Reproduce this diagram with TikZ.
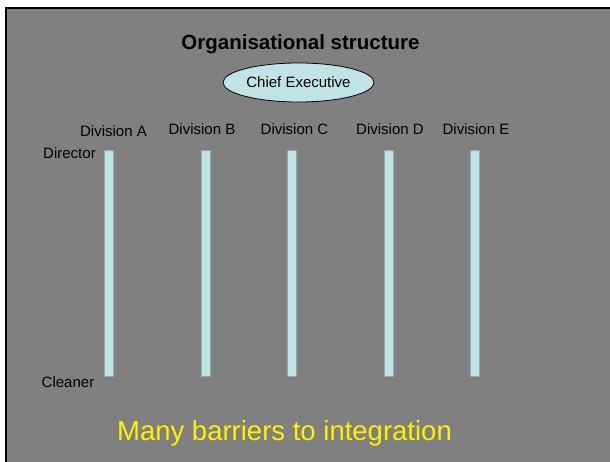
\documentclass[tikz,border=0pt]{standalone}
\usepackage{fontspec}
\setmainfont{Liberation Sans}
\usetikzlibrary{shapes}
\definecolor{slidegrey}{HTML}{808080}
\definecolor{palecyan}{HTML}{C0E4E6}

\begin{document}
\begin{tikzpicture}[x=1pt, y=-1pt,
  lbl/.style={font=\fontsize{15}{18}\selectfont, inner sep=0pt, anchor=base},
  bar/.style={rectangle, fill=palecyan, draw=palecyan!75!black, line width=0.4pt, minimum width=9pt, minimum height=226pt, inner sep=0pt},
  boss/.style={ellipse, draw, fill=palecyan, line width=0.8pt, minimum width=151pt, minimum height=39pt, inner sep=0pt, font=\fontsize{15}{18}\selectfont}]
  % slide background and its frame
  \fill[white] (0,0) rectangle (610,462);
  \fill[black] (5,7) rectangle (610,462);
  \fill[slidegrey] (7,9) rectangle (610,462);
  \useasboundingbox (0,0) rectangle (610,462);

  \node [font=\bfseries\fontsize{20.5}{24}\selectfont, inner sep=0pt, anchor=base] (title) at (300.5,50) {Organisational structure};
  \node [boss] (ceo) at (298.5,82.5) {Chief Executive};

  \node [lbl] (divA) at (113.5,137) {Division A};
  \node [lbl] (divB) at (202,135) {Division B};
  \node [lbl] (divC) at (294.5,135) {Division C};
  \node [lbl] (divD) at (390,135) {Division D};
  \node [lbl] (divE) at (476,135) {Division E};

  \node [lbl] (director) at (69.5,159) {Director};
  \node [lbl] (cleaner) at (68,387) {Cleaner};

  \foreach \name/\x in {A/108.5, B/205.5, C/291.5, D/388.5, E/475}
    \node [bar] (bar\name) at (\x,263) {};

  \node [font=\fontsize{27.5}{32}\selectfont, text=yellow, inner sep=0pt, anchor=base] (moral) at (284.5,440) {Many barriers to integration};
\end{tikzpicture}
\end{document}
